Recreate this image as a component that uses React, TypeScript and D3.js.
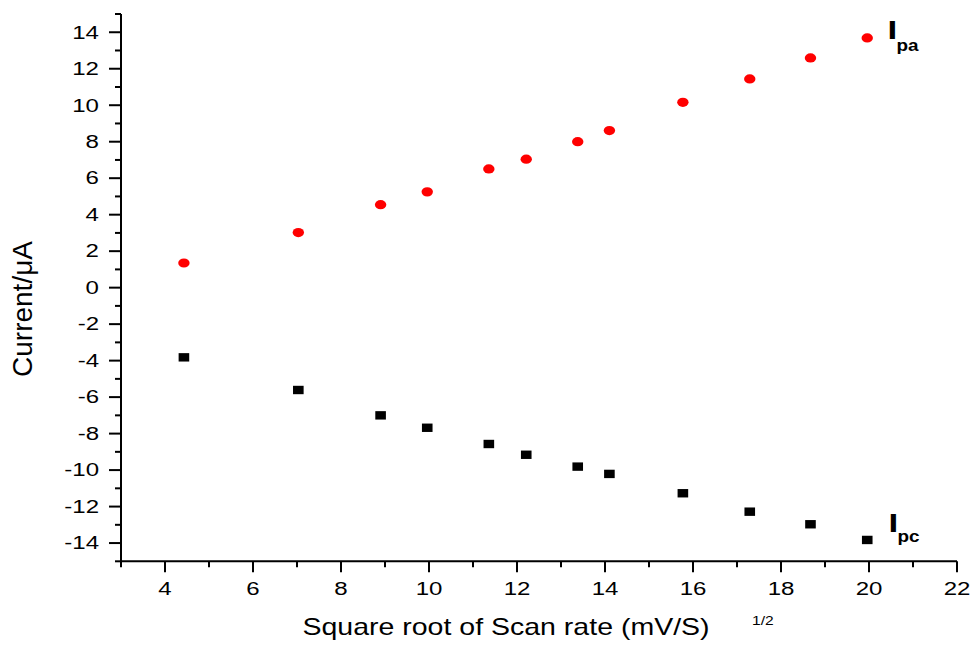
import React, { useEffect, useRef } from "react";
import * as d3 from "d3";

const sqrtScanRate = [4.43, 7.03, 8.9, 9.96, 11.36, 12.21, 13.38, 14.1, 15.77, 17.29, 18.67, 19.96];
const ipa = [1.35, 3.02, 4.55, 5.25, 6.51, 7.04, 8.0, 8.61, 10.16, 11.44, 12.59, 13.69];
const ipc = [-3.82, -5.61, -7.0, -7.68, -8.57, -9.16, -9.81, -10.21, -11.27, -12.28, -12.97, -13.83];
const xTickValues = [3, 4, 5, 6, 7, 8, 9, 10, 11, 12, 13, 14, 15, 16, 17, 18, 19, 20, 21, 22];
const yTickValues = d3.range(-15, 16);
const xTitle = "Square root of Scan rate (mV/S)";
const xTitleSup = "1/2";
const yTitle = "Current/μA";

const W = 976;
const H = 648;
const FONT = "'Liberation Sans', Arial, sans-serif";

export default function App() {
  const ref = useRef<SVGSVGElement | null>(null);

  useEffect(() => {
    const svg = d3.select(ref.current);
    svg.selectAll("*").remove();

    const x = d3.scaleLinear().domain([3, 22]).range([121, 957]);
    const y = d3.scaleLinear().domain([-15, 15]).range([561.3, 14]);

    const g = svg.append("g");

    // axis lines
    g.append("line")
      .attr("x1", x(3)).attr("x2", x(22))
      .attr("y1", y(-15)).attr("y2", y(-15))
      .attr("stroke", "#000").attr("stroke-width", 2);
    g.append("line")
      .attr("x1", x(3)).attr("x2", x(3))
      .attr("y1", y(-15) + 1).attr("y2", y(15))
      .attr("stroke", "#000").attr("stroke-width", 2);

    // x ticks
    xTickValues.forEach((v) => {
      const major = v % 2 === 0;
      g.append("line")
        .attr("x1", x(v)).attr("x2", x(v))
        .attr("y1", y(-15)).attr("y2", y(-15) + (major ? 11 : 6))
        .attr("stroke", "#000").attr("stroke-width", 2);
      if (major) {
        g.append("text")
          .attr("transform", `translate(${x(v)},595) scale(1.3,1)`)
          .attr("text-anchor", "middle")
          .attr("font-family", FONT)
          .attr("font-size", 18.5)
          .attr("fill", "#000")
          .text(String(v));
      }
    });

    // y ticks
    yTickValues.forEach((v) => {
      const major = v % 2 === 0;
      g.append("line")
        .attr("x1", x(3)).attr("x2", x(3) - (major ? 12 : 6))
        .attr("y1", y(v)).attr("y2", y(v))
        .attr("stroke", "#000").attr("stroke-width", 2);
      if (major) {
        g.append("text")
          .attr("transform", `translate(99,${y(v) + 6.3}) scale(1.3,1)`)
          .attr("text-anchor", "end")
          .attr("font-family", FONT)
          .attr("font-size", 18.5)
          .attr("fill", "#000")
          .text(String(v));
      }
    });

    // titles
    g.append("text")
      .attr("transform", `translate(506,635) scale(1.24,1)`)
      .attr("text-anchor", "middle")
      .attr("font-family", FONT)
      .attr("font-size", 23)
      .attr("fill", "#000")
      .text(xTitle);
    g.append("text")
      .attr("transform", `translate(752,625) scale(1.2,1)`)
      .attr("font-family", FONT)
      .attr("font-size", 13)
      .attr("fill", "#000")
      .text(xTitleSup);
    g.append("text")
      .attr("transform", `translate(32,309) rotate(-90)`)
      .attr("text-anchor", "middle")
      .attr("font-family", FONT)
      .attr("font-size", 28)
      .attr("fill", "#000")
      .text(yTitle);

    // data: Ipa red circles
    g.selectAll("ellipse.ipa")
      .data(sqrtScanRate.map((s, i) => [s, ipa[i]]))
      .enter()
      .append("ellipse")
      .attr("class", "ipa")
      .attr("cx", (d) => x(d[0]))
      .attr("cy", (d) => y(d[1]))
      .attr("rx", 5.7)
      .attr("ry", 4.6)
      .attr("fill", "#ff0000");

    // data: Ipc black squares
    g.selectAll("rect.ipc")
      .data(sqrtScanRate.map((s, i) => [s, ipc[i]]))
      .enter()
      .append("rect")
      .attr("class", "ipc")
      .attr("x", (d) => x(d[0]) - 5.3)
      .attr("y", (d) => y(d[1]) - 4.2)
      .attr("width", 10.6)
      .attr("height", 8.4)
      .attr("fill", "#000");

    // series labels
    const label = (xp: number, yp: number, sub: string, subY: number) => {
      g.append("text")
        .attr("transform", `translate(${xp},${yp}) scale(1.35,1)`)
        .attr("font-family", FONT)
        .attr("font-weight", "bold")
        .attr("font-size", 26)
        .attr("fill", "#000")
        .text("I");
      g.append("text")
        .attr("transform", `translate(${xp + 9},${subY}) scale(1.18,1)`)
        .attr("font-family", FONT)
        .attr("font-weight", "bold")
        .attr("font-size", 16)
        .attr("fill", "#000")
        .text(sub);
    };
    label(887.5, 39, "pa", 50.5);
    label(888.5, 532, "pc", 541.5);
  }, []);

  return (
    <svg
      ref={ref}
      width={W}
      height={H}
      style={{ position: "absolute", left: 0, top: 0, background: "#fff" }}
    />
  );
}
